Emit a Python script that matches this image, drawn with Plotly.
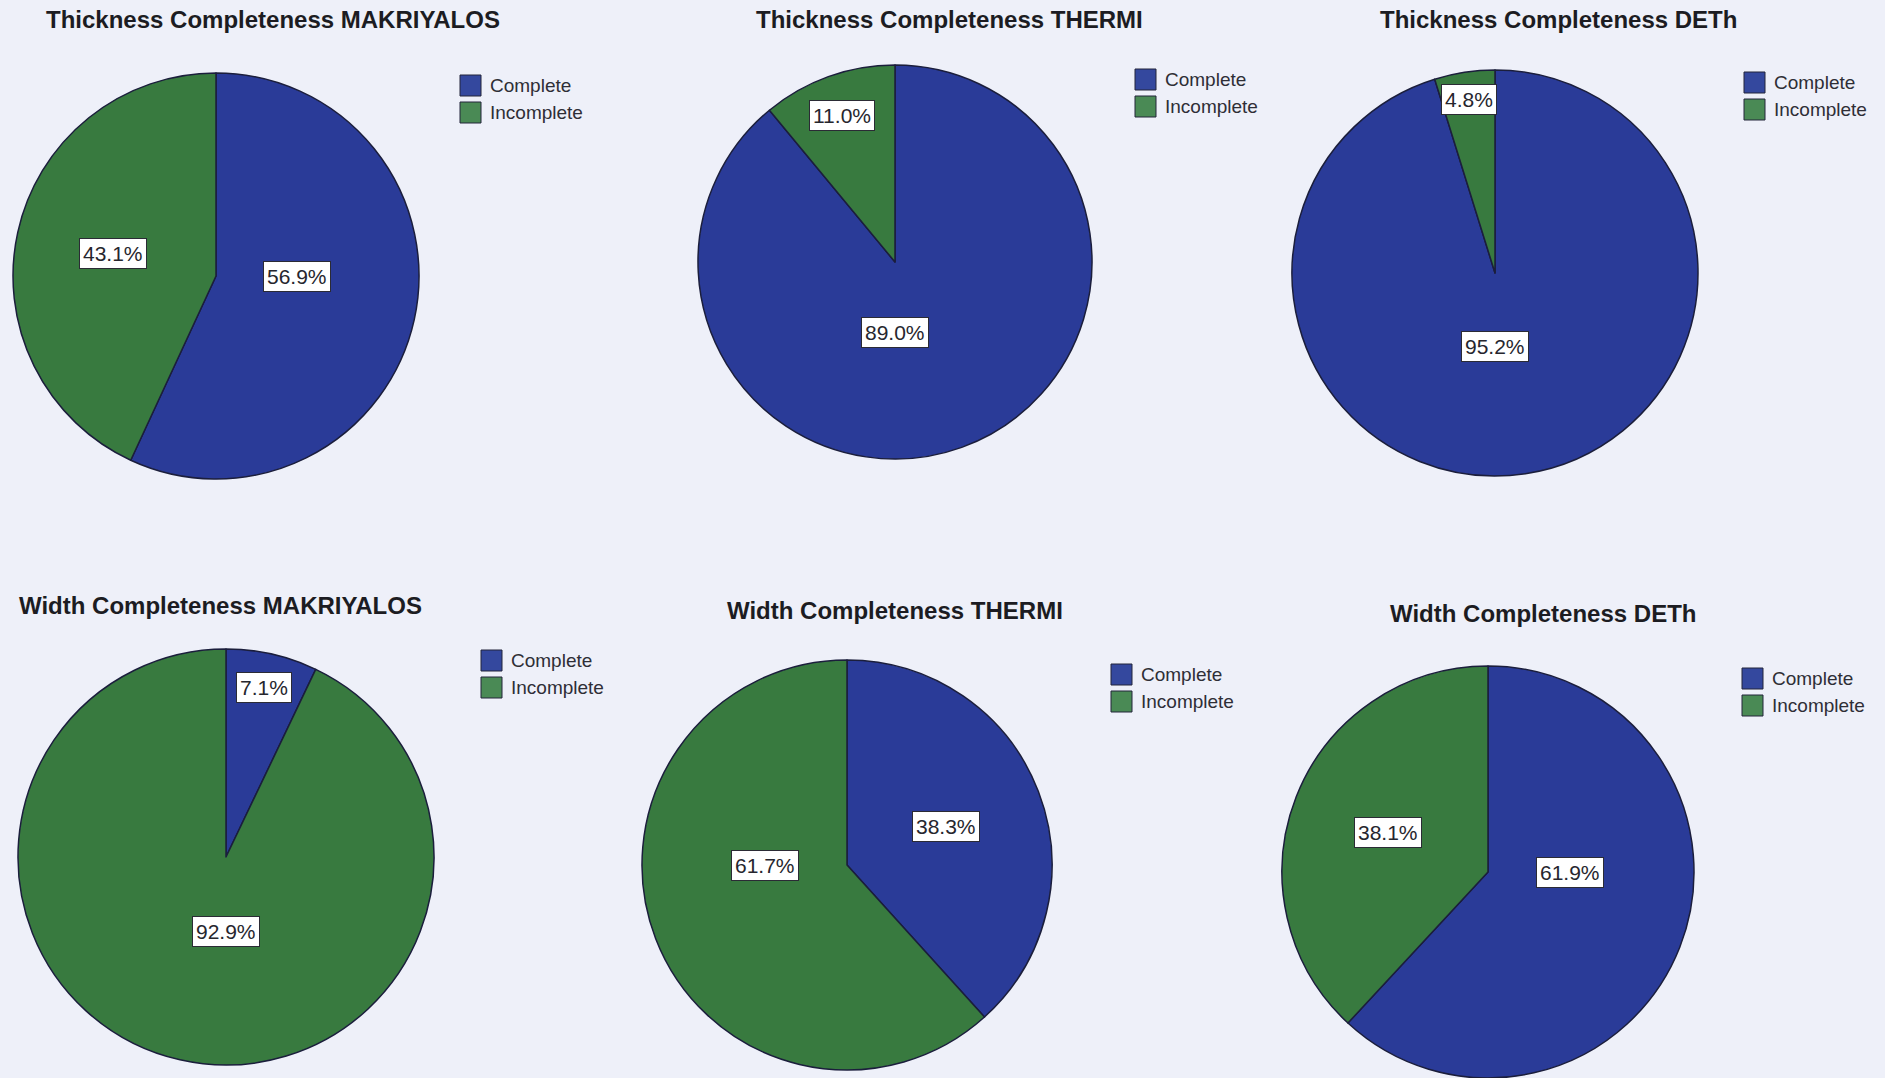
import math
import plotly.graph_objects as go

W, H = 1885, 1078

# Category names and percentages for each site
categories = ["Complete", "Incomplete"]
thickness_makriyalos = [56.9, 43.1]
thickness_thermi = [89.0, 11.0]
thickness_deth = [95.2, 4.8]
width_makriyalos = [7.1, 92.9]
width_thermi = [38.3, 61.7]
width_deth = [61.9, 38.1]

titles = [
    "Thickness Completeness MAKRIYALOS",
    "Thickness Completeness THERMI",
    "Thickness Completeness DETh",
    "Width Completeness MAKRIYALOS",
    "Width Completeness THERMI",
    "Width Completeness DETh",
]
series = [thickness_makriyalos, thickness_thermi, thickness_deth,
          width_makriyalos, width_thermi, width_deth]

colors = ["#2a3b98", "#387a3f"]
swatch_colors = ["#34489e", "#4a8a55"]
bg = "#eef0f9"

# Panel geometry in pixels: pie centre / radius, title anchor, legend anchor
pie_geom = [(216, 276, 203), (895, 262, 197), (1495, 273, 203),
            (226, 857, 208), (847, 865, 205), (1488, 872, 206)]
title_pos = [(44, 20), (754, 19), (1378, 20), (17, 605), (725, 610), (1388, 613)]
legend_pos = [(460, 75), (1135, 69), (1744, 72), (481, 650), (1111, 664), (1742, 668)]


def px(x):
    return x / W


def py(y):
    return 1 - y / H


fig = go.Figure()
annotations = []
shapes = []

for i, vals in enumerate(series):
    cx, cy, r = pie_geom[i]
    fig.add_trace(go.Pie(
        labels=categories,
        values=vals,
        sort=False,
        direction="clockwise",
        rotation=0,
        textinfo="none",
        hoverinfo="label+percent",
        showlegend=False,
        marker=dict(colors=colors, line=dict(color="#1b1e3c", width=1.5)),
        domain=dict(x=[max(0, px(cx - r)), min(1, px(cx + r))],
                    y=[max(0, py(cy + r)), min(1, py(cy - r))]),
    ))

    # Percentage labels in boxed callouts placed inside each slice
    total = sum(vals)
    start = 0.0
    for v in vals:
        f = v / total
        mid = (start + f / 2) * 360
        if f >= 0.5:
            # large slices: label snapped to the nearest quarter direction
            ang = round(mid / 90) * 90
            t = math.radians(ang)
            d = 0.36 + 0.04 * abs(math.sin(t))
        elif f >= 0.2:
            ang = mid
            t = math.radians(ang)
            d = 0.52
        else:
            # thin slices: label pushed out toward the rim
            ang = mid
            t = math.radians(ang)
            d = 0.92 - 1.2 * f
        lx = cx + d * r * math.sin(t)
        ly = cy - d * r * math.cos(t)
        annotations.append(dict(
            x=px(lx), y=py(ly), xref="paper", yref="paper",
            text=f"{v:.1f}%", showarrow=False,
            font=dict(family="Liberation Sans, Arial", size=21, color="#26262e"),
            bgcolor="#ffffff", bordercolor="#2b2b35", borderwidth=1, borderpad=3,
            xanchor="center", yanchor="middle",
        ))
        start += f

    # Title
    tx, ty = title_pos[i]
    annotations.append(dict(
        x=px(tx), y=py(ty), xref="paper", yref="paper",
        text=f"<b>{titles[i]}</b>", showarrow=False,
        font=dict(family="Liberation Sans, Arial", size=24, color="#1c1c22"),
        xanchor="left", yanchor="middle",
    ))

    # Legend swatches and names
    gx, gy = legend_pos[i]
    for k, name in enumerate(categories):
        y0 = gy + k * 27
        shapes.append(dict(
            type="rect", xref="paper", yref="paper",
            x0=px(gx), x1=px(gx + 21), y0=py(y0 + 21), y1=py(y0),
            fillcolor=swatch_colors[k], line=dict(color="#22243a", width=1),
        ))
        annotations.append(dict(
            x=px(gx + 28), y=py(y0 + 10.5), xref="paper", yref="paper",
            text=name, showarrow=False,
            font=dict(family="Liberation Sans, Arial", size=19, color="#2e2e36"),
            xanchor="left", yanchor="middle",
        ))

fig.update_layout(
    width=W, height=H,
    margin=dict(l=0, r=0, t=0, b=0),
    paper_bgcolor=bg, plot_bgcolor=bg,
    annotations=annotations,
    shapes=shapes,
)

fig.write_html("out.html")
